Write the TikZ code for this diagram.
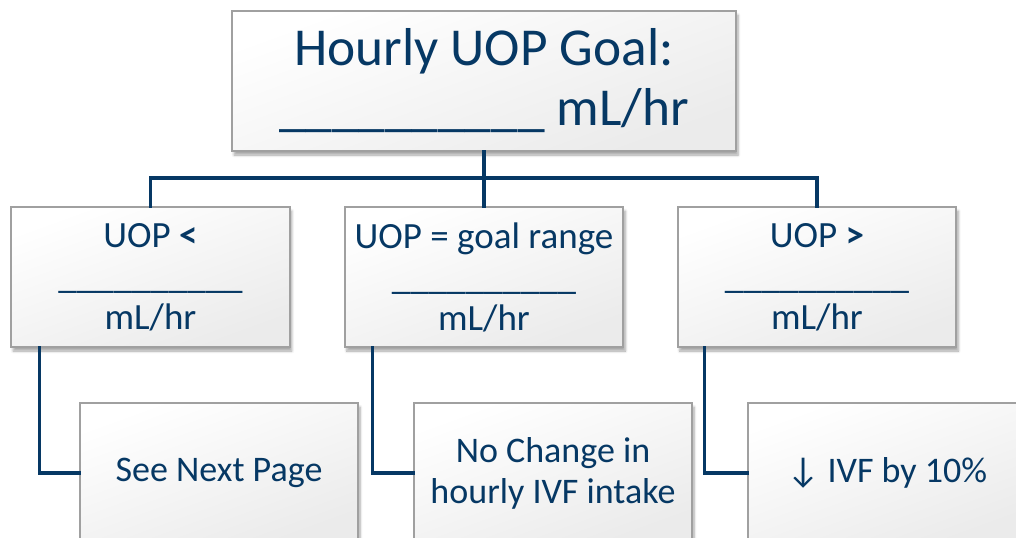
\documentclass[tikz,border=0pt]{standalone}
\usepackage{fontspec}
\setmainfont{Carlito}
\usetikzlibrary{shadows.blur}
\definecolor{navy}{RGB}{6,56,100}
\definecolor{boxline}{RGB}{160,160,160}
\tikzset{
  card/.style={draw=boxline, line width=1.3pt, top color=white, bottom color=black!8,
    shading angle=20,
    blur shadow={shadow xshift=1.5pt, shadow yshift=-3pt, shadow blur steps=6, shadow opacity=35},
    text=navy, align=center, inner sep=0pt},
  wire/.style={draw=navy, line width=2.3pt, line cap=rect},
}
\begin{document}
\begin{tikzpicture}[x=0.75pt, y=-0.75pt]
\useasboundingbox (0,0) rectangle (1016,537);
\clip (0,0) rectangle (1016,537);

% goal box
\node[card, minimum width=378pt, minimum height=105pt,
      font=\fontsize{40pt}{45pt}\selectfont] (goal) at (484,81)
  {Hourly UOP Goal:\\\_\_\_\_\_\_\_\_\_\_ mL/hr};

% range boxes
\node[card, minimum width=209pt, minimum height=105pt,
      font=\fontsize{27.75pt}{30.75pt}\selectfont] (low) at (150.5,277)
  {UOP \textbf{<}\\\_\_\_\_\_\_\_\_\_\_\\mL/hr};
\node[card, minimum width=209pt, minimum height=105pt,
      font=\fontsize{27.75pt}{30.75pt}\selectfont] (ok) at (484,277)
  {UOP = goal range\\\_\_\_\_\_\_\_\_\_\_\\mL/hr};
\node[card, minimum width=209pt, minimum height=105pt,
      font=\fontsize{27.75pt}{30.75pt}\selectfont] (high) at (817,277)
  {UOP \textbf{>}\\\_\_\_\_\_\_\_\_\_\_\\mL/hr};

% action boxes
\node[card, minimum width=208.5pt, minimum height=105pt,
      font=\fontsize{27pt}{30.75pt}\selectfont] (actlow) at (219,473)
  {See Next Page};
\node[card, minimum width=208.5pt, minimum height=105pt,
      font=\fontsize{27pt}{30.75pt}\selectfont] (actok) at (553,473)
  {No Change in\\hourly IVF intake};
\node[card, minimum width=208.5pt, minimum height=105pt,
      font=\fontsize{27pt}{30.75pt}\selectfont] (acthigh) at (887,473)
  {↓ IVF by 10\%};

% tree connectors
\coordinate (bus) at (484,178);
\draw[wire] (low.north) |- (bus) -| (high.north);
\draw[wire] (goal.south) -- (ok.north);

\draw[wire] ([xshift=21.75pt]low.south west) |- (actlow.west);
\draw[wire] ([xshift=21.75pt]ok.south west) |- (actok.west);
\draw[wire] ([xshift=21pt]high.south west) |- (acthigh.west);
\end{tikzpicture}
\end{document}
